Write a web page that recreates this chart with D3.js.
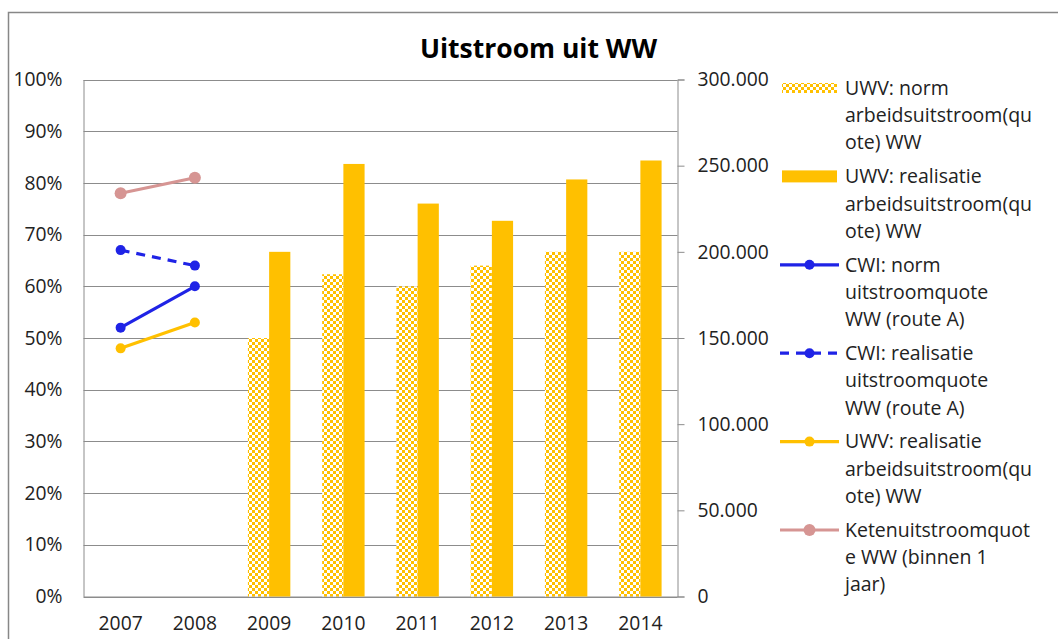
<!DOCTYPE html>
<html>
<head>
<meta charset="utf-8">
<script src="https://cdn.jsdelivr.net/npm/d3@7"></script>
<style>
  html, body { margin: 0; padding: 0; background: #fff; }
  svg { display: block; font-family: "Open Sans", sans-serif; }
</style>
</head>
<body>
<svg id="chart" width="1058" height="639"></svg>
<script>
// ---- data ----
const years = ["2007", "2008", "2009", "2010", "2011", "2012", "2013", "2014"];
const barYears = ["2009", "2010", "2011", "2012", "2013", "2014"];
const uwvNormBars = [150000, 187000, 180000, 192000, 200000, 200000];
const uwvRealBars = [200000, 251000, 228000, 218000, 242000, 253000];
const lineYears = ["2007", "2008"];
const cwiNorm = [0.52, 0.60];
const cwiReal = [0.67, 0.64];
const uwvRealLine = [0.48, 0.53];
const keten = [0.78, 0.81];
const leftTicks = [0, 0.1, 0.2, 0.3, 0.4, 0.5, 0.6, 0.7, 0.8, 0.9, 1.0];
const rightTicks = [0, 50000, 100000, 150000, 200000, 250000, 300000];
const legendLabels = [
  ["UWV: norm", "arbeidsuitstroom(qu", "ote) WW"],
  ["UWV: realisatie", "arbeidsuitstroom(qu", "ote) WW"],
  ["CWI: norm", "uitstroomquote", "WW (route A)"],
  ["CWI: realisatie", "uitstroomquote", "WW (route A)"],
  ["UWV: realisatie", "arbeidsuitstroom(qu", "ote) WW"],
  ["Ketenuitstroomquot", "e WW (binnen 1", "jaar)"]
];

const ORANGE = "#FFC000", BLUE = "#1F23E6", PINK = "#D69593";
const TICK_FS = 19.3, LEG_FS = 19.5;
const svg = d3.select("#chart");
const defs = svg.append("defs");
const pat = defs.append("pattern").attr("id", "checker")
  .attr("patternUnits", "userSpaceOnUse").attr("width", 6).attr("height", 6);
pat.append("rect").attr("width", 6).attr("height", 6).attr("fill", "#fff");
pat.append("rect").attr("width", 3).attr("height", 3).attr("fill", ORANGE);
pat.append("rect").attr("x", 3).attr("y", 3).attr("width", 3).attr("height", 3).attr("fill", ORANGE);

// outer border
svg.append("rect").attr("x", 8.5).attr("y", 12.5).attr("width", 1100).attr("height", 700)
  .attr("fill", "none").attr("stroke", "#878787").attr("stroke-width", 1.5);

const L = 83.5, R = 677.5, T = 79.5, B = 596.5;
const x = d3.scaleBand().domain(years).range([L, R]).padding(0);
const xi = d3.scaleBand().domain(["norm", "real"]).range([0, x.bandwidth()])
  .paddingInner(0).paddingOuter(0.75);
const yL = d3.scaleLinear().domain([0, 1]).range([B, T]);
const yR = d3.scaleLinear().domain([0, 300000]).range([B, T]);

// gridlines
svg.append("g").selectAll("line").data(leftTicks).join("line")
  .attr("x1", L).attr("x2", R)
  .attr("y1", d => Math.round(yL(d)) + 0.5).attr("y2", d => Math.round(yL(d)) + 0.5)
  .attr("stroke", "#8c8c8c").attr("stroke-width", 1);

// left axis
const axL = svg.append("g").attr("transform", `translate(${L},0)`)
  .call(d3.axisLeft(yL).tickValues(leftTicks).tickFormat(d => Math.round(d * 100) + "%").tickSize(0).tickPadding(21));
axL.select(".domain").attr("stroke", "#8c8c8c");
axL.selectAll("text").attr("font-size", TICK_FS).attr("fill", "#222").attr("font-family", "Open Sans");

// right axis
const axR = svg.append("g").attr("transform", `translate(${R},0)`)
  .call(d3.axisRight(yR).tickValues(rightTicks)
    .tickFormat(d => d === 0 ? "0" : d3.format(",")(d).replace(/,/g, ".")).tickSize(7).tickPadding(13));
axR.select(".domain").attr("stroke", "#8c8c8c");
axR.selectAll(".tick line").attr("stroke", "#8c8c8c");
axR.selectAll("text").attr("font-size", TICK_FS).attr("fill", "#222").attr("font-family", "Open Sans");

// bottom axis labels
const axB = svg.append("g").attr("transform", `translate(0,${B})`)
  .call(d3.axisBottom(x).tickSize(0).tickPadding(20));
axB.select(".domain").attr("stroke", "#8c8c8c");
axB.selectAll("text").attr("font-size", TICK_FS).attr("fill", "#222").attr("font-family", "Open Sans");

// bars
const bars = svg.append("g");
bars.selectAll("rect.norm").data(barYears).join("rect").attr("class", "norm")
  .attr("x", (d) => x(d) + xi("norm"))
  .attr("width", xi.bandwidth())
  .attr("y", (d, i) => yR(uwvNormBars[i]))
  .attr("height", (d, i) => B - yR(uwvNormBars[i]))
  .attr("fill", "url(#checker)");
bars.selectAll("rect.real").data(barYears).join("rect").attr("class", "real")
  .attr("x", (d) => x(d) + xi("real"))
  .attr("width", xi.bandwidth())
  .attr("y", (d, i) => yR(uwvRealBars[i]))
  .attr("height", (d, i) => B - yR(uwvRealBars[i]))
  .attr("fill", ORANGE);

// lines
const cx = d => x(d) + x.bandwidth() / 2;
const lineSeries = [
  { vals: uwvRealLine, color: ORANGE, dash: null, r: 5 },
  { vals: cwiNorm, color: BLUE, dash: null, r: 5 },
  { vals: cwiReal, color: BLUE, dash: "9,7", r: 5 },
  { vals: keten, color: PINK, dash: null, r: 6 }
];
const lineGen = d3.line().x(d => cx(d.y)).y(d => yL(d.v));
lineSeries.forEach(s => {
  const pts = lineYears.map((y, i) => ({ y, v: s.vals[i] }));
  svg.append("path").datum(pts).attr("d", lineGen)
    .attr("fill", "none").attr("stroke", s.color).attr("stroke-width", 3.2)
    .attr("stroke-dasharray", s.dash);
  svg.append("g").selectAll("circle").data(pts).join("circle")
    .attr("cx", d => cx(d.y)).attr("cy", d => yL(d.v)).attr("r", s.r).attr("fill", s.color);
});

// title
svg.append("text").attr("x", 538.5).attr("y", 58).attr("text-anchor", "middle")
  .attr("font-size", 26.5).attr("font-weight", "bold").attr("fill", "#000")
  .text("Uitstroom uit WW");

// legend
const legTop = 88, legStep = 88.4, lineH = 27.3, symX0 = 780, symX1 = 839, txtX = 845;
const leg = svg.append("g");
legendLabels.forEach((lines, i) => {
  const cy = legTop + i * legStep;
  const g = leg.append("g");
  if (i === 0) {
    g.append("rect").attr("x", symX0 + 2).attr("y", cy - 5).attr("width", symX1 - symX0 - 4).attr("height", 10)
      .attr("fill", "url(#checker)");
  } else if (i === 1) {
    g.append("rect").attr("x", symX0 + 2).attr("y", cy - 6).attr("width", symX1 - symX0 - 4).attr("height", 12)
      .attr("fill", ORANGE);
  } else {
    const s = lineSeries[[null, null, 1, 2, 0, 3][i]];
    g.append("line").attr("x1", symX0).attr("x2", symX1).attr("y1", cy).attr("y2", cy)
      .attr("stroke", s.color).attr("stroke-width", 3.2).attr("stroke-dasharray", s.dash);
    g.append("circle").attr("cx", (symX0 + symX1) / 2).attr("cy", cy).attr("r", s.r).attr("fill", s.color);
  }
  lines.forEach((t, j) => {
    g.append("text").attr("x", txtX).attr("y", cy + j * lineH).attr("dy", "0.35em")
      .attr("font-size", LEG_FS).attr("fill", "#222").text(t);
  });
});
</script>
</body>
</html>
